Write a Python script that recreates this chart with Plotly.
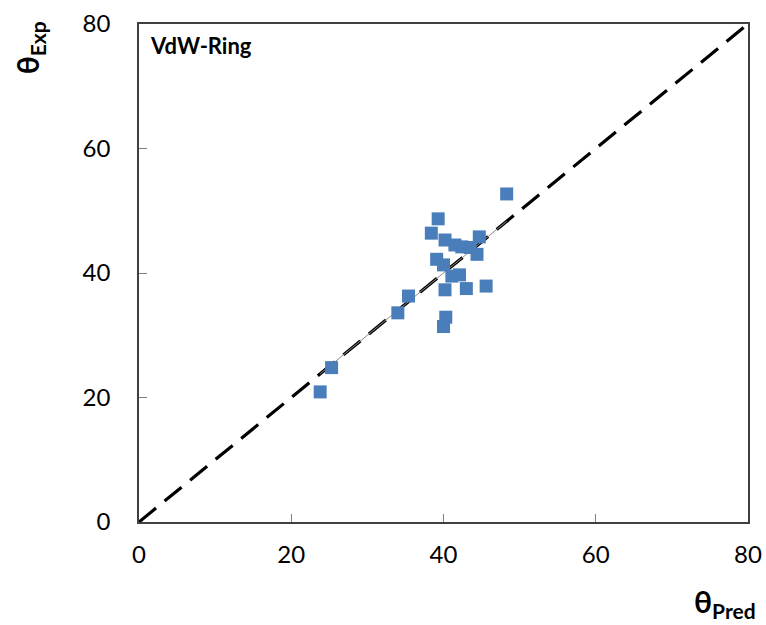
import numpy as np
import plotly.graph_objects as go

# Predicted vs. experimental angles (degrees)
theta_pred = [48.3, 39.3, 38.4, 40.2, 41.5, 42.4, 43.5, 44.7, 44.4, 39.1, 40.0,
              41.1, 42.1, 43.0, 45.6, 40.2, 35.4, 34.0, 40.3, 40.0, 25.3, 23.8]
theta_exp = [52.7, 48.7, 46.4, 45.3, 44.5, 44.2, 44.1, 45.8, 43.0, 42.2, 41.3,
             39.5, 39.7, 37.5, 37.9, 37.3, 36.3, 33.6, 32.9, 31.4, 24.8, 20.9]

axis_range = [0, 80]
tick_vals = [0, 20, 40, 60, 80]
panel_label = "VdW-Ring"

FONT = "Lato, 'DejaVu Sans', sans-serif"
MARKER_BLUE = "#4A7EBB"

fig = go.Figure()

# 1:1 reference line across the full axis range
fig.add_trace(go.Scatter(
    x=axis_range, y=axis_range, mode="lines",
    line=dict(color="black", width=3.2, dash="22px,11px"),
    hoverinfo="skip", showlegend=False,
))

# thin identity guide over the span of the data
span = [min(theta_pred), max(theta_pred)]
fig.add_trace(go.Scatter(
    x=span, y=span, mode="lines",
    line=dict(color="#8c8c8c", width=1),
    hoverinfo="skip", showlegend=False,
))

fig.add_trace(go.Scatter(
    x=theta_pred, y=theta_exp, mode="markers",
    marker=dict(symbol="square", size=13, color=MARKER_BLUE, line=dict(width=0)),
    showlegend=False,
))

axis_common = dict(
    range=axis_range, tickvals=tick_vals, ticks="inside", ticklen=8,
    tickwidth=1.3, tickcolor="#7f7f7f",
    showline=True, linecolor="#404040", linewidth=1.5, mirror=True,
    showgrid=False, zeroline=False, automargin=False,
    tickfont=dict(family=FONT, size=24, color="black"),
)

fig.update_layout(
    width=766, height=625,
    margin=dict(l=139, r=18, t=24, b=103),
    paper_bgcolor="white", plot_bgcolor="white",
    xaxis=dict(**axis_common, ticklabelstandoff=10),
    yaxis=dict(**axis_common, ticklabelstandoff=22),
    annotations=[
        dict(text=f"<b>{panel_label}</b>", xref="paper", yref="paper",
             x=0.014, y=0.988, xanchor="left", yanchor="top", showarrow=False,
             font=dict(family=FONT, size=22, color="black")),
        dict(text="<b>θ<sub>Pred</sub></b>", xref="paper", yref="paper",
             x=0.963, y=-0.162, xanchor="center", yanchor="middle", showarrow=False,
             font=dict(family=FONT, size=30, color="black")),
        dict(text="<b>θ<sub>Exp</sub></b>", xref="paper", yref="paper",
             x=-0.18, y=0.952, xanchor="center", yanchor="middle", showarrow=False,
             textangle=-90, font=dict(family=FONT, size=30, color="black")),
    ],
)

fig.write_html("out.html")
